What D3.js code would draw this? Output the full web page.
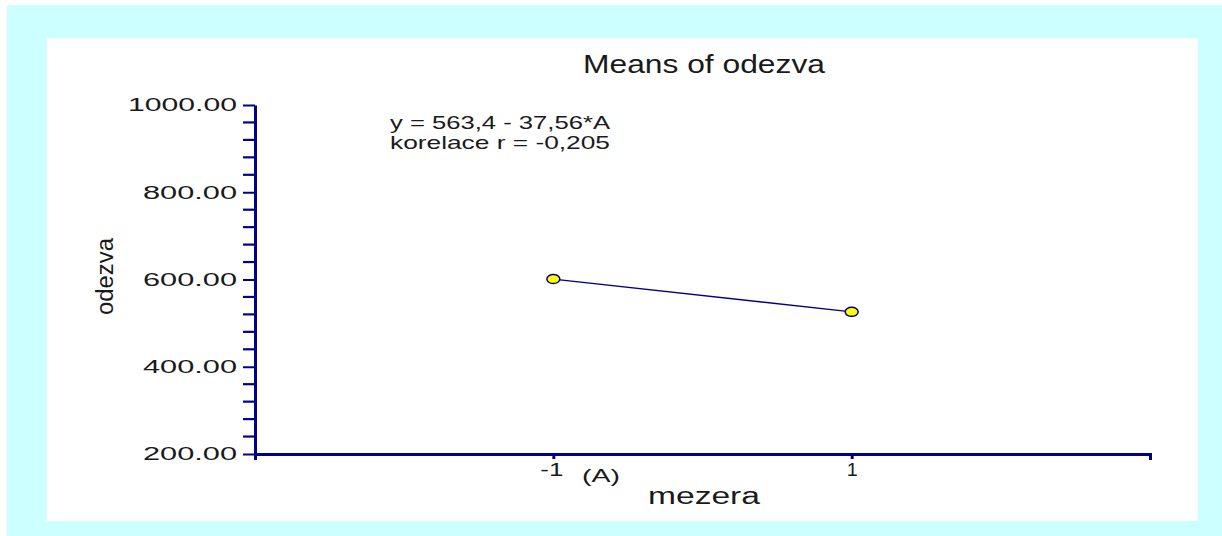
<!DOCTYPE html>
<html>
<head>
<meta charset="utf-8">
<script src="https://cdn.jsdelivr.net/npm/d3@7"></script>
<style>
  body { margin: 0; background: #fff; }
  svg text { font-family: "Liberation Sans", Arial, sans-serif; fill: #1a1a1a; }
</style>
</head>
<body>
<svg id="chart" width="1222" height="536"></svg>
<script>
// data
const xLevels = [-1, 1];
const means = [601.0, 525.8];
const yTickValues = [200, 400, 600, 800, 1000];
const yTickLabels = ["200.00", "400.00", "600.00", "800.00", "1000.00"];
const xTickLabels = ["-1", "1"];
const fitText = ["y = 563,4 - 37,56*A", "korelace r = -0,205"];

const navy = "#00008b";
const svg = d3.select("#chart");

// frame
svg.append("rect").attr("x", 7).attr("y", 5).attr("width", 1215).attr("height", 531).attr("fill", "#ccffff");
svg.append("rect").attr("x", 47).attr("y", 38).attr("width", 1151).attr("height", 483).attr("fill", "#fff");

const x = d3.scaleLinear().domain([-3, 3]).range([255, 1150]);
const y = d3.scaleLinear().domain([200, 1000]).range([454, 105]);

// minor y ticks
const minorTicks = d3.range(240, 1000, 40).filter(v => !yTickValues.includes(v));
svg.append("g").selectAll("line")
    .data(minorTicks)
    .join("line")
    .attr("x1", x(-3) - 12).attr("x2", x(-3))
    .attr("y1", d => y(d)).attr("y2", d => y(d))
    .attr("stroke", navy).attr("stroke-width", 2.2);

// y axis
const yAxisG = svg.append("g")
    .attr("transform", `translate(${x(-3)},0)`)
    .call(d3.axisLeft(y).tickValues(yTickValues).tickSize(12).tickSizeOuter(0).tickPadding(6)
        .tickFormat((d, i) => yTickLabels[i]));
yAxisG.select(".domain").attr("stroke", navy).attr("stroke-width", 3);
yAxisG.selectAll(".tick line").attr("stroke", navy).attr("stroke-width", 2);
yAxisG.selectAll(".tick text")
    .attr("font-size", 18)
    .attr("fill", "#1a1a1a")
    .attr("textLength", (d, i) => yTickLabels[i].length === 7 ? 109 : 94)
    .attr("lengthAdjust", "spacingAndGlyphs");

// x axis
const xAxisG = svg.append("g")
    .attr("transform", `translate(0,${y(200)})`)
    .call(d3.axisBottom(x).tickValues(xLevels).tickSize(5).tickSizeOuter(6)
        .tickFormat((d, i) => xTickLabels[i]));
xAxisG.select(".domain").attr("stroke", navy).attr("stroke-width", 3);
xAxisG.selectAll(".tick line").attr("stroke", navy).attr("stroke-width", 3);
xAxisG.selectAll(".tick text")
    .attr("font-size", 18)
    .attr("fill", "#1a1a1a")
    .attr("y", 22)
    .attr("dy", 0)
    .attr("dx", (d, i) => i === 0 ? -2 : 0)
    .attr("textLength", (d, i) => i === 0 ? 23 : 11)
    .attr("lengthAdjust", "spacingAndGlyphs");

svg.append("text")
    .attr("x", 582).attr("y", 482)
    .attr("font-size", 18)
    .attr("textLength", 38).attr("lengthAdjust", "spacingAndGlyphs")
    .text("(A)");

// mean line and points
const pts = xLevels.map((v, i) => [v, means[i]]);
svg.append("path")
    .datum(pts)
    .attr("fill", "none")
    .attr("stroke", navy)
    .attr("stroke-width", 1.3)
    .attr("d", d3.line().x(d => x(d[0])).y(d => y(d[1])));

svg.append("g").selectAll("ellipse")
    .data(pts)
    .join("ellipse")
    .attr("cx", d => x(d[0]))
    .attr("cy", d => y(d[1]))
    .attr("rx", 6.5).attr("ry", 4.5)
    .attr("fill", "#ffff00")
    .attr("stroke", navy)
    .attr("stroke-width", 1.5);

// titles
svg.append("text")
    .attr("x", 583).attr("y", 73)
    .attr("font-size", 25)
    .attr("textLength", 242).attr("lengthAdjust", "spacingAndGlyphs")
    .text("Means of odezva");

svg.append("text")
    .attr("x", 648).attr("y", 504)
    .attr("font-size", 23)
    .attr("textLength", 112).attr("lengthAdjust", "spacingAndGlyphs")
    .text("mezera");

svg.append("text")
    .attr("transform", "translate(113,315) rotate(-90)")
    .attr("font-size", 23)
    .attr("textLength", 77).attr("lengthAdjust", "spacingAndGlyphs")
    .text("odezva");

// regression annotation
svg.append("g").selectAll("text")
    .data(fitText)
    .join("text")
    .attr("x", 390)
    .attr("y", (d, i) => 129 + i * 20)
    .attr("font-size", 19)
    .attr("textLength", 220).attr("lengthAdjust", "spacingAndGlyphs")
    .text(d => d);
</script>
</body>
</html>
